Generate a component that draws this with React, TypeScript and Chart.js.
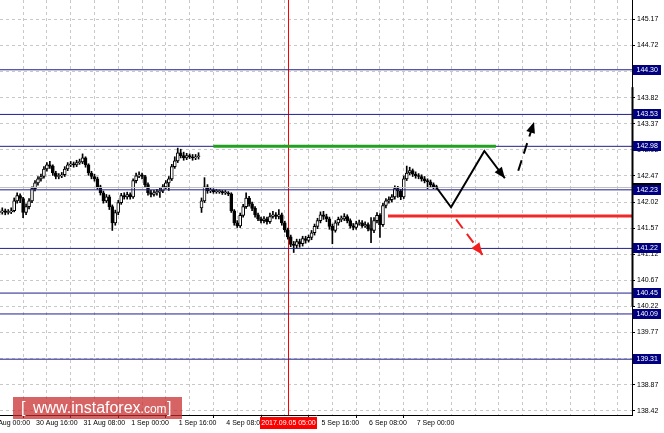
import React, { useEffect, useRef } from 'react';
import { Chart, registerables } from 'chart.js';
Chart.register(...registerables);

// ---- hourly candles (H1) ----
const opens = [
  141.84, 141.85, 141.87, 141.84, 141.85, 141.87, 142.04, 142.13, 142.08, 141.84,
  141.94, 142.04, 142.25, 142.35, 142.42, 142.46, 142.59, 142.66, 142.64, 142.52,
  142.46, 142.47, 142.49, 142.59, 142.66, 142.68, 142.66, 142.70, 142.71, 142.78,
  142.66, 142.52, 142.46, 142.42, 142.28, 142.18, 142.04, 142.11, 141.94, 141.66,
  141.84, 142.01, 142.13, 142.11, 142.15, 142.11, 142.39, 142.47, 142.49, 142.46,
  142.32, 142.18, 142.15, 142.18, 142.20, 142.21, 142.28, 142.35, 142.42, 142.63,
  142.73, 142.87, 142.82, 142.78, 142.82, 142.80, 142.78, 142.80, 141.92, 142.04,
  142.28, 142.21, 142.23, 142.20, 142.20, 142.20, 142.18, 142.18, 142.16, 141.87,
  141.66, 141.61, 141.79, 141.94, 142.09, 141.99, 141.91, 141.80, 141.73, 141.70,
  141.73, 141.68, 141.77, 141.80, 141.77, 141.80, 141.66, 141.54, 141.42, 141.29,
  141.27, 141.34, 141.30, 141.39, 141.36, 141.41, 141.49, 141.60, 141.70, 141.80,
  141.77, 141.73, 141.60, 141.53, 141.66, 141.72, 141.73, 141.77, 141.70, 141.61,
  141.58, 141.65, 141.66, 141.61, 141.63, 141.56, 141.53, 141.70, 141.79, 141.63,
  141.96, 142.04, 142.06, 142.11, 142.25, 142.21, 142.11, 142.42, 142.52, 142.56,
  142.50, 142.47, 142.46, 142.42, 142.39, 142.37, 142.32, 142.28,
];
const highs = [
  141.89, 141.92, 141.90, 141.89, 141.92, 142.09, 142.18, 142.16, 142.10, 141.99,
  142.08, 142.28, 142.39, 142.46, 142.50, 142.63, 142.70, 142.72, 142.66, 142.55,
  142.51, 142.53, 142.63, 142.70, 142.72, 142.71, 142.74, 142.76, 142.85, 142.80,
  142.68, 142.55, 142.50, 142.45, 142.31, 142.21, 142.15, 142.14, 141.97, 141.88,
  142.05, 142.17, 142.18, 142.19, 142.18, 142.42, 142.52, 142.54, 142.52, 142.48,
  142.35, 142.22, 142.22, 142.24, 142.26, 142.32, 142.39, 142.46, 142.67, 142.80,
  142.95, 142.93, 142.88, 142.86, 142.85, 142.84, 142.84, 142.87, 142.09, 142.44,
  142.32, 142.27, 142.25, 142.24, 142.23, 142.22, 142.22, 142.20, 142.18, 141.89,
  141.70, 141.83, 141.98, 142.18, 142.12, 142.02, 141.94, 141.83, 141.76, 141.77,
  141.76, 141.83, 141.86, 141.84, 141.89, 141.83, 141.69, 141.57, 141.45, 141.34,
  141.38, 141.38, 141.43, 141.43, 141.45, 141.53, 141.64, 141.74, 141.85, 141.86,
  141.81, 141.76, 141.64, 141.70, 141.76, 141.78, 141.82, 141.80, 141.73, 141.65,
  141.69, 141.71, 141.70, 141.68, 141.66, 141.75, 141.75, 141.84, 141.82, 142.00,
  142.08, 142.11, 142.15, 142.30, 142.29, 142.24, 142.47, 142.64, 142.62, 142.59,
  142.54, 142.51, 142.49, 142.46, 142.42, 142.40, 142.35, 142.31,
];
const lows = [
  141.80, 141.81, 141.80, 141.81, 141.82, 141.85, 142.00, 142.01, 141.75, 141.80,
  141.90, 142.01, 142.21, 142.31, 142.38, 142.43, 142.55, 142.60, 142.48, 142.42,
  142.42, 142.44, 142.46, 142.56, 142.63, 142.62, 142.63, 142.67, 142.68, 142.62,
  142.48, 142.42, 142.38, 142.24, 142.14, 142.00, 142.01, 141.89, 141.53, 141.62,
  141.80, 141.98, 142.07, 142.07, 142.07, 142.08, 142.35, 142.44, 142.42, 142.28,
  142.14, 142.11, 142.12, 142.14, 142.10, 142.18, 142.25, 142.22, 142.39, 142.60,
  142.70, 142.78, 142.74, 142.75, 142.77, 142.74, 142.75, 142.76, 141.84, 142.01,
  142.17, 142.18, 142.17, 142.17, 142.17, 142.15, 142.15, 142.13, 141.84, 141.62,
  141.58, 141.58, 141.76, 141.91, 141.95, 141.87, 141.76, 141.70, 141.66, 141.66,
  141.64, 141.65, 141.74, 141.73, 141.73, 141.62, 141.50, 141.38, 141.25, 141.15,
  141.22, 141.24, 141.26, 141.31, 141.33, 141.37, 141.45, 141.56, 141.66, 141.72,
  141.68, 141.55, 141.30, 141.50, 141.62, 141.68, 141.70, 141.66, 141.57, 141.54,
  141.55, 141.62, 141.58, 141.58, 141.52, 141.32, 141.49, 141.66, 141.41, 141.60,
  141.92, 142.00, 142.02, 142.07, 142.10, 142.06, 142.08, 142.39, 142.49, 142.46,
  142.43, 142.42, 142.38, 142.35, 142.25, 142.28, 142.25, 142.24,
];
const closes = [
  141.85, 141.87, 141.84, 141.85, 141.87, 142.04, 142.13, 142.08, 141.84, 141.94,
  142.04, 142.25, 142.35, 142.42, 142.46, 142.59, 142.66, 142.64, 142.52, 142.46,
  142.47, 142.49, 142.59, 142.66, 142.68, 142.66, 142.70, 142.71, 142.78, 142.66,
  142.52, 142.46, 142.42, 142.28, 142.18, 142.04, 142.11, 141.94, 141.66, 141.84,
  142.01, 142.13, 142.11, 142.15, 142.11, 142.39, 142.47, 142.49, 142.46, 142.32,
  142.18, 142.15, 142.18, 142.20, 142.21, 142.28, 142.35, 142.42, 142.63, 142.73,
  142.87, 142.82, 142.78, 142.82, 142.80, 142.78, 142.80, 142.80, 142.04, 142.28,
  142.21, 142.23, 142.20, 142.20, 142.20, 142.18, 142.18, 142.16, 141.87, 141.66,
  141.61, 141.79, 141.94, 142.09, 141.99, 141.91, 141.80, 141.73, 141.70, 141.73,
  141.68, 141.77, 141.80, 141.77, 141.80, 141.66, 141.54, 141.42, 141.29, 141.27,
  141.34, 141.30, 141.39, 141.36, 141.41, 141.49, 141.60, 141.70, 141.80, 141.77,
  141.73, 141.60, 141.53, 141.66, 141.72, 141.73, 141.77, 141.70, 141.61, 141.58,
  141.65, 141.66, 141.61, 141.63, 141.56, 141.53, 141.70, 141.79, 141.63, 141.96,
  142.04, 142.06, 142.11, 142.25, 142.21, 142.11, 142.42, 142.52, 142.56, 142.50,
  142.47, 142.46, 142.42, 142.39, 142.37, 142.32, 142.28, 142.27,
];

// ---- axes ----
const yTicks = [145.17, 144.72, 144.27, 143.82, 143.37, 142.92, 142.47, 142.02, 141.57, 141.12, 140.67, 140.22, 139.77, 139.32, 138.87, 138.42];
const xLabelIdx = [-4, 12, 28, 44, 60, 76, 108, 124, 140];
const xLabels = ['30 Aug 00:00', '30 Aug 16:00', '31 Aug 08:00', '1 Sep 00:00', '1 Sep 16:00', '4 Sep 08:00', '5 Sep 16:00', '6 Sep 08:00', '7 Sep 00:00'];
const xGridIdx = [4, 12, 20, 28, 36, 44, 52, 60, 68, 76, 84, 92, 100, 108, 116, 124, 132, 140, 148, 156, 164, 172, 180, 188, 196, 204, 212];
const xTickMarkIdx = [12, 28, 44, 60, 76, 92, 108, 124, 140];
const crossIdx = 97;
const crossLabel = '2017.09.05 05:00';

// ---- levels & drawings ----
const levels = [144.30, 143.53, 142.98, 142.23, 141.22, 140.45, 140.09, 139.31];
const bidPrice = 142.27;
const greenX = [72, 167];
const greenY = [142.98, 142.98];
const redX = [130.7, 213];
const redY = [141.78, 141.78];
const pathX = [147, 151.9, 163.1, 170.0];
const pathY = [142.27, 141.93, 142.90, 142.43];
const upDashX = [174.5, 179.8];
const upDashY = [142.56, 143.40];
const downDashX = [153.6, 162.5];
const downDashY = [141.72, 141.11];

const X_MIN = 0.235;
const X_MAX = 212.75;
const Y_MAX = 145.503;
const Y_MIN = 138.348;

const FONT = '"Liberation Sans", Arial, sans-serif';
const NAVY = '#000080';
const LEVEL_COLOR = 'rgb(32,32,140)';

const pts = (xs: number[], ys: number[]) => xs.map((x, i) => ({ x, y: ys[i] }));

const arrowPlugin = {
  id: 'arrowHeads',
  afterDatasetsDraw(chart: any) {
    const ctx = chart.ctx;
    chart.data.datasets.forEach((ds: any, di: number) => {
      if (!ds.arrow) return;
      const meta = chart.getDatasetMeta(di).data;
      const a = meta[meta.length - 2];
      const b = meta[meta.length - 1];
      const ang = Math.atan2(b.y - a.y, b.x - a.x);
      const L = ds.arrowLen, W = ds.arrowWidth;
      const c = Math.cos(ang), s = Math.sin(ang);
      ctx.save();
      ctx.fillStyle = ds.borderColor;
      ctx.beginPath();
      ctx.moveTo(b.x, b.y);
      ctx.lineTo(b.x - L * c + (W / 2) * s, b.y - L * s - (W / 2) * c);
      ctx.lineTo(b.x - L * c - (W / 2) * s, b.y - L * s + (W / 2) * c);
      ctx.closePath();
      ctx.fill();
      ctx.restore();
    });
  },
};

const crossPlugin = {
  id: 'crossLine',
  beforeDatasetsDraw(chart: any) {
    const { ctx, chartArea, scales } = chart;
    const x = Math.round(scales.x.getPixelForValue(crossIdx)) + 0.5;
    ctx.save();
    ctx.strokeStyle = '#ff0000';
    ctx.lineWidth = 1;
    ctx.beginPath();
    ctx.moveTo(x, chartArea.top);
    ctx.lineTo(x, chartArea.bottom);
    ctx.stroke();
    ctx.restore();
  },
};

const labelsPlugin = {
  id: 'axisLabels',
  afterDraw(chart: any) {
    const { ctx, chartArea, scales } = chart;
    const xs = scales.x, ys = scales.y;
    ctx.save();
    ctx.font = `7px ${FONT}`;
    ctx.textBaseline = 'middle';
    ctx.textAlign = 'left';
    ctx.fillStyle = '#000';
    const ly = chartArea.bottom + 8.5;
    xLabelIdx.forEach((idx, i) => {
      const px = xs.getPixelForValue(idx);
      ctx.fillText(xLabels[i], px + 1, ly);
    });
    // crosshair date label
    const cx = Math.round(xs.getPixelForValue(crossIdx));
    ctx.fillStyle = '#ff0000';
    ctx.fillRect(cx - 28, chartArea.bottom + 2, 57, 12);
    ctx.fillStyle = '#ffffff';
    ctx.textAlign = 'center';
    ctx.fillText(crossLabel, cx + 0.5, ly);

    // thick segment on price axis
    ctx.strokeStyle = '#000';
    ctx.lineWidth = 2;
    ctx.beginPath();
    ctx.moveTo(chartArea.right + 0.5, ys.getPixelForValue(144.0));
    ctx.lineTo(chartArea.right + 0.5, ys.getPixelForValue(140.22));
    ctx.stroke();

    // price labels
    ctx.textAlign = 'left';
    const box = (v: number, bg: string) => {
      const py = Math.round(ys.getPixelForValue(v));
      ctx.fillStyle = bg;
      ctx.fillRect(chartArea.right + 1, py - 5, 28, 10);
      ctx.fillStyle = '#fff';
      ctx.fillText(v.toFixed(2), chartArea.right + 4.5, py + 0.5);
    };
    box(bidPrice, '#000');
    levels.forEach((v) => box(v, NAVY));
    ctx.restore();
  },
};

export default function App() {
  const ref = useRef<HTMLCanvasElement | null>(null);
  useEffect(() => {
    if (!ref.current) return;
    const bodies = opens.map((o, i) => ({ x: i, y: [o, closes[i]] }));
    const wicks = highs.map((h, i) => ({ x: i, y: [lows[i], h] }));
    const levelSets = levels.map((lv) => ({
      type: 'line',
      data: pts([X_MIN, X_MAX], [lv, lv]),
      borderColor: LEVEL_COLOR,
      borderWidth: 1,
      pointRadius: 0,
      order: 5,
    }));
    const chart = new Chart(ref.current, {
      type: 'bar',
      data: {
        datasets: [
          {
            type: 'line',
            data: pts([X_MIN, X_MAX], [bidPrice, bidPrice]),
            borderColor: '#c0c0c0',
            borderWidth: 1,
            pointRadius: 0,
            order: 6,
          },
          ...levelSets,
          {
            type: 'bar',
            data: wicks,
            backgroundColor: '#000',
            barThickness: 1,
            grouped: false,
            order: 11,
          },
          {
            type: 'bar',
            data: bodies,
            backgroundColor: opens.map((o, i) => (closes[i] >= o ? '#ffffff' : '#000000')),
            borderColor: '#000',
            borderWidth: 1,
            borderSkipped: false,
            barThickness: 3,
            minBarLength: 1,
            grouped: false,
            order: 10,
          },
          {
            type: 'line',
            data: pts(greenX, greenY),
            borderColor: '#22a022',
            borderWidth: 3,
            pointRadius: 0,
            order: 2,
          },
          {
            type: 'line',
            data: pts(redX, redY),
            borderColor: '#f02828',
            borderWidth: 3,
            pointRadius: 0,
            order: 2,
          },
          {
            type: 'line',
            data: pts(pathX, pathY),
            borderColor: '#000000',
            borderWidth: 2,
            pointRadius: 0,
            order: 1,
            arrow: true,
            arrowLen: 11,
            arrowWidth: 9,
          },
          {
            type: 'line',
            data: pts(upDashX, upDashY),
            borderColor: '#000000',
            borderWidth: 2,
            borderDash: [11, 7],
            pointRadius: 0,
            order: 1,
            arrow: true,
            arrowLen: 11,
            arrowWidth: 9,
          },
          {
            type: 'line',
            data: pts(downDashX, downDashY),
            borderColor: '#f02020',
            borderWidth: 2,
            borderDash: [11, 7],
            pointRadius: 0,
            order: 1,
            arrow: true,
            arrowLen: 12,
            arrowWidth: 10,
          },
        ] as any,
      },
      options: {
        animation: false,
        responsive: false,
        maintainAspectRatio: false,
        layout: { padding: 0 },
        plugins: { legend: { display: false }, tooltip: { enabled: false } },
        scales: {
          x: {
            type: 'linear',
            min: X_MIN,
            max: X_MAX,
            offset: false,
            afterBuildTicks: (s: any) => {
              s.ticks = xGridIdx.map((v) => ({ value: v }));
            },
            afterFit: (s: any) => {
              s.height = 18;
              s.paddingLeft = 0;
              s.paddingRight = 0;
            },
            ticks: { display: false },
            grid: {
              color: '#c8c8c8',
              lineWidth: 1,
              drawTicks: true,
              tickLength: 3,
              tickColor: (c: any) => (c.tick && xTickMarkIdx.includes(c.tick.value) ? '#000' : 'rgba(0,0,0,0)'),
            },
            border: { display: true, color: '#000', width: 1, dash: [3, 3] },
          },
          y: {
            type: 'linear',
            position: 'right',
            min: Y_MIN,
            max: Y_MAX,
            afterBuildTicks: (s: any) => {
              s.ticks = yTicks.map((v) => ({ value: v }));
            },
            afterFit: (s: any) => {
              s.width = 32;
              s.paddingTop = 0;
              s.paddingBottom = 0;
            },
            ticks: {
              callback: (v: any) => Number(v).toFixed(2),
              color: '#000',
              font: { family: FONT, size: 7 },
              padding: 2,
              autoSkip: false,
            },
            grid: { color: '#c8c8c8', lineWidth: 1, tickLength: 3, tickColor: '#000' },
            border: { display: true, color: '#000', width: 1, dash: [3, 3] },
          },
        },
      } as any,
      plugins: [crossPlugin, arrowPlugin, labelsPlugin],
    });
    return () => chart.destroy();
  }, []);

  return (
    <div style={{ position: 'absolute', left: 0, top: 0, width: 664, height: 433, background: '#fff', overflow: 'hidden' }}>
      <canvas ref={ref} width={664} height={433} style={{ width: 664, height: 433, display: 'block' }} />
      <div
        style={{
          position: 'absolute',
          left: 13,
          top: 397,
          width: 169,
          height: 22,
          background: 'rgba(200,40,40,0.72)',
          color: '#fff',
          fontFamily: FONT,
          fontSize: 16,
          lineHeight: '22px',
          whiteSpace: 'pre',
        }}
      >
        <span style={{ position: 'absolute', left: 8, top: 0 }}>[</span>
        <span style={{ position: 'absolute', left: 20, top: 0 }}>
          www.instaforex<span style={{ fontSize: 12 }}>.com</span>
        </span>
        <span style={{ position: 'absolute', left: 154, top: 0 }}>]</span>
      </div>
    </div>
  );
}
